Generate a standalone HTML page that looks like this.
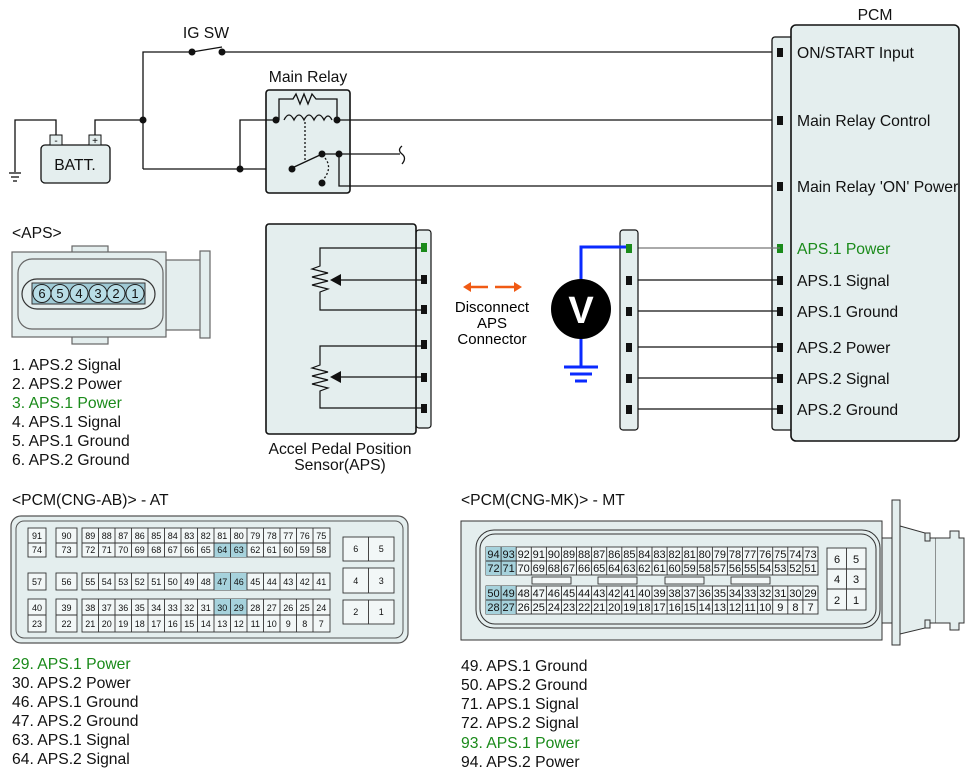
<!DOCTYPE html>
<html><head><meta charset="utf-8"><style>
html,body{margin:0;padding:0;background:#fff;}
svg{display:block;font-family:"Liberation Sans",Arial,sans-serif;}
.t{font-size:15.7px;fill:#111;}
.g{fill:#1a8a1a;}
.a{font-size:9px;text-anchor:middle;fill:#111;}
.m{font-size:11px;text-anchor:middle;fill:#111;}
</style></head><body>
<svg width="971" height="777" viewBox="0 0 971 777" xmlns="http://www.w3.org/2000/svg">
<g stroke="#111" stroke-width="1.3" fill="none">
<polyline points="143,169 143,52 192,52"/>
<line x1="192" y1="52" x2="222" y2="47"/>
<line x1="222" y1="52" x2="780" y2="52"/>
<polyline points="56,136 56,120 15,120 15,172"/>
<line x1="9" y1="173" x2="21" y2="173"/><line x1="11" y1="177" x2="19" y2="177"/><line x1="13" y1="181" x2="17" y2="181"/>
<polyline points="95,136 95,120 143,120"/>
<line x1="143" y1="169" x2="292" y2="169"/>
</g>
<rect x="41" y="145" width="69" height="38" rx="4" fill="#e4eeee" stroke="#111" stroke-width="1.3"/>
<rect x="50" y="135" width="12" height="10" fill="#e4eeee" stroke="#111"/>
<rect x="89" y="135" width="12" height="10" fill="#e4eeee" stroke="#111"/>
<text x="56" y="144" font-size="10" text-anchor="middle">-</text>
<text x="95" y="144" font-size="10" text-anchor="middle">+</text>
<text x="75" y="170" class="t" text-anchor="middle">BATT.</text>
<text x="206" y="38" class="t" text-anchor="middle">IG SW</text>
<text x="308" y="82" class="t" text-anchor="middle">Main Relay</text>
<rect x="266" y="90" width="84" height="103" rx="3" fill="#e4eeee" stroke="#111" stroke-width="1.6"/>
<g stroke="#111" stroke-width="1.3" fill="none">
<polyline points="240,169 240,120 276,120"/>
<polyline points="279,120 279,99 293,99 296,94 300,104 304,94 308,104 312,94 316,99 337,99 337,120"/>
<path d="M284,120 q5,-10 10,0 q5,-10 10,0 q5,-10 10,0 q5,-10 10,0 q4,-8 8,0"/>
<line x1="337" y1="120" x2="780" y2="120"/>
<line x1="305" y1="122" x2="305" y2="160" stroke-dasharray="2,2"/>
<line x1="292" y1="168" x2="320" y2="155"/>
<path d="M325,158 q8,10 -2,22" stroke-dasharray="2,2"/>
<polyline points="322,154 400,154"/>
<path d="M402,146 q-5,4 0,8 q5,4 0,10"/>
<polyline points="339,154 339,186 780,186"/>
</g>
<g fill="#111">
<circle cx="192" cy="52" r="3.5"/><circle cx="222" cy="52" r="3.5"/>
<circle cx="143" cy="120" r="3.5"/><circle cx="240" cy="169" r="3.5"/>
<circle cx="276" cy="120" r="3.5"/><circle cx="337" cy="120" r="3.5"/>
<circle cx="292" cy="169" r="3.5"/><circle cx="322" cy="154" r="3.5"/>
<circle cx="339" cy="154" r="3.5"/><circle cx="322" cy="183" r="3.5"/>
</g>
<text x="875" y="20" class="t" text-anchor="middle">PCM</text>
<rect x="772" y="37" width="22" height="393" rx="3" fill="#e4eeee" stroke="#111" stroke-width="1.3"/>
<rect x="791" y="25" width="168" height="416" rx="5" fill="#e4eeee" stroke="#111" stroke-width="1.6"/>
<g fill="#111">
<rect x="777" y="48" width="6" height="9"/><rect x="777" y="116" width="6" height="9"/><rect x="777" y="182" width="6" height="9"/>
<rect x="777" y="244" width="6" height="9" fill="#1a8a1a"/><rect x="777" y="276" width="6" height="9"/><rect x="777" y="307" width="6" height="9"/>
<rect x="777" y="343" width="6" height="9"/><rect x="777" y="374" width="6" height="9"/><rect x="777" y="405" width="6" height="9"/>
</g>
<text x="797" y="58" class="t">ON/START Input</text>
<text x="797" y="126" class="t">Main Relay Control</text>
<text x="797" y="192" class="t">Main Relay 'ON' Power</text>
<text x="797" y="254" class="t g">APS.1 Power</text>
<text x="797" y="286" class="t">APS.1 Signal</text>
<text x="797" y="317" class="t">APS.1 Ground</text>
<text x="797" y="353" class="t">APS.2 Power</text>
<text x="797" y="384" class="t">APS.2 Signal</text>
<text x="797" y="415" class="t">APS.2 Ground</text>
<g stroke="#111" stroke-width="1.2">
<line x1="630" y1="248" x2="780" y2="248" stroke="#777"/><line x1="630" y1="280" x2="780" y2="280"/><line x1="630" y1="311" x2="780" y2="311"/>
<line x1="630" y1="347" x2="780" y2="347"/><line x1="630" y1="378" x2="780" y2="378"/><line x1="630" y1="409" x2="780" y2="409"/>
</g>
<rect x="620" y="230" width="18" height="200" rx="3" fill="#e4eeee" stroke="#111" stroke-width="1.2"/>
<g fill="#111">
<rect x="626" y="244" width="6" height="9" fill="#1a8a1a"/><rect x="626" y="276" width="6" height="9"/><rect x="626" y="307" width="6" height="9"/>
<rect x="626" y="343" width="6" height="9"/><rect x="626" y="374" width="6" height="9"/><rect x="626" y="405" width="6" height="9"/>
</g>
<g stroke="#0a2aff" stroke-width="3" fill="none">
<polyline points="581,280 581,247 626,247"/>
<line x1="581" y1="338" x2="581" y2="366"/>
<line x1="564" y1="367" x2="598" y2="367"/><line x1="570" y1="374" x2="592" y2="374"/><line x1="575" y1="381" x2="587" y2="381"/>
</g>
<circle cx="581" cy="309" r="30" fill="#000"/>
<text x="581" y="323" font-size="38" font-weight="bold" fill="#fff" text-anchor="middle">V</text>
<g stroke="#f05a14" stroke-width="2.5" fill="#f05a14">
<line x1="468" y1="287" x2="488" y2="287"/><polygon points="463,287 471,282 471,292" stroke="none"/>
<line x1="495" y1="287" x2="516" y2="287"/><polygon points="522,287 514,282 514,292" stroke="none"/>
</g>
<text x="492" y="312" font-size="15" text-anchor="middle">Disconnect</text>
<text x="492" y="328" font-size="15" text-anchor="middle">APS</text>
<text x="492" y="344" font-size="15" text-anchor="middle">Connector</text>
<rect x="416" y="230" width="15" height="198" rx="3" fill="#e4eeee" stroke="#111" stroke-width="1.2"/>
<rect x="266" y="224" width="150" height="210" rx="3" fill="#e4eeee" stroke="#111" stroke-width="1.6"/>
<g stroke="#111" stroke-width="1.2" fill="none">
<polyline points="421,248 320,248 320,266 312,269 328,273 312,277 328,281 312,285 328,289 320,292 320,310 421,310"/>
<line x1="340" y1="280" x2="421" y2="280"/>
<polyline points="421,346 320,346 320,365 312,368 328,372 312,376 328,380 312,384 328,388 320,391 320,408 421,408"/>
<line x1="340" y1="377" x2="421" y2="377"/>
</g>
<polygon points="330,280 341,274 341,286" fill="#111"/>
<polygon points="330,377 341,371 341,383" fill="#111"/>
<g fill="#111">
<rect x="421" y="243" width="6" height="9" fill="#1a8a1a"/><rect x="421" y="275" width="6" height="9"/><rect x="421" y="305" width="6" height="9"/>
<rect x="421" y="340" width="6" height="9"/><rect x="421" y="373" width="6" height="9"/><rect x="421" y="404" width="6" height="9"/>
</g>
<text x="340" y="454" class="t" text-anchor="middle">Accel Pedal Position</text>
<text x="340" y="470" class="t" text-anchor="middle">Sensor(APS)</text>
<text x="12" y="238" class="t">&lt;APS&gt;</text>
<g stroke="#666" stroke-width="1.2" fill="#e4eeee">
<rect x="72" y="246" width="36" height="8"/><rect x="72" y="335" width="36" height="9"/>
<rect x="166" y="260" width="35" height="70"/><rect x="200" y="251" width="10" height="87"/>
<rect x="12" y="252" width="154" height="85"/>
<rect x="18" y="259" width="145" height="70" rx="14"/>
<rect x="22" y="279" width="133" height="30" rx="15" stroke="#333"/>
</g>
<rect x="32" y="283" width="113" height="21" fill="#9fc9d4" stroke="#333"/>
<g fill="#b8dde6" stroke="#222" stroke-width="1">
<circle cx="42" cy="293.5" r="9"/><circle cx="60" cy="293.5" r="9"/><circle cx="79" cy="293.5" r="9"/><circle cx="98" cy="293.5" r="9"/><circle cx="116" cy="293.5" r="9"/><circle cx="135" cy="293.5" r="9"/>
</g>
<g font-size="13" text-anchor="middle" fill="#111">
<text x="42" y="298">6</text><text x="60" y="298">5</text><text x="79" y="298">4</text><text x="98" y="298">3</text><text x="116" y="298">2</text><text x="135" y="298">1</text>
</g>
<text x="12" y="370" class="t">1. APS.2 Signal</text>
<text x="12" y="389" class="t">2. APS.2 Power</text>
<text x="12" y="408" class="t g">3. APS.1 Power</text>
<text x="12" y="427" class="t">4. APS.1 Signal</text>
<text x="12" y="446" class="t">5. APS.1 Ground</text>
<text x="12" y="465" class="t">6. APS.2 Ground</text>
<text x="12" y="505" class="t">&lt;PCM(CNG-AB)&gt; - AT</text>
<rect x="11" y="516" width="397" height="127" rx="10" fill="#e4eeee" stroke="#555" stroke-width="1.2"/>
<rect x="16" y="521" width="387" height="117" rx="8" fill="none" stroke="#555"/>
<g fill="#f2f7f7" stroke="#333" stroke-width="0.9">
<rect x="28" y="528" width="18" height="29"/><rect x="56" y="528" width="21" height="29"/><rect x="82" y="528" width="248" height="29"/>
<rect x="28" y="573" width="18" height="17"/><rect x="56" y="573" width="21" height="17"/><rect x="82" y="573" width="248" height="17"/>
<rect x="28" y="599" width="18" height="33"/><rect x="56" y="599" width="21" height="33"/><rect x="82" y="599" width="248" height="33"/>
<rect x="343" y="537" width="51" height="24"/><rect x="343" y="568" width="51" height="25"/><rect x="343" y="600" width="51" height="24"/>
</g>
<g fill="#a6d2dc">
<rect x="214" y="543" width="33" height="14"/><rect x="214" y="573" width="33" height="17"/><rect x="214" y="599" width="33" height="16"/>
</g>
<g stroke="#333" stroke-width="0.9">
<path d="M28,543H46M56,543H77M82,543H330M28,615H46M56,615H77M82,615H330M368.5,537V561M368.5,568V593M368.5,600V624"/>
<path d="M98.5,528V557M115,528V557M131.5,528V557M148,528V557M164.5,528V557M181,528V557M197.5,528V557M214,528V557M230.5,528V557M247,528V557M263.5,528V557M280,528V557M296.5,528V557M313,528V557"/>
<path d="M98.5,573V590M115,573V590M131.5,573V590M148,573V590M164.5,573V590M181,573V590M197.5,573V590M214,573V590M230.5,573V590M247,573V590M263.5,573V590M280,573V590M296.5,573V590M313,573V590"/>
<path d="M98.5,599V632M115,599V632M131.5,599V632M148,599V632M164.5,599V632M181,599V632M197.5,599V632M214,599V632M230.5,599V632M247,599V632M263.5,599V632M280,599V632M296.5,599V632M313,599V632"/>
</g>
<g class="a">
<text x="37" y="539">91</text><text x="66.5" y="539">90</text><text x="37" y="553">74</text><text x="66.5" y="553">73</text>
<text x="37" y="585">57</text><text x="66.5" y="585">56</text>
<text x="37" y="611">40</text><text x="66.5" y="611">39</text><text x="37" y="627">23</text><text x="66.5" y="627">22</text>
<text x="90.3" y="539">89</text><text x="106.8" y="539">88</text><text x="123.3" y="539">87</text><text x="139.8" y="539">86</text><text x="156.3" y="539">85</text><text x="172.8" y="539">84</text><text x="189.3" y="539">83</text><text x="205.8" y="539">82</text><text x="222.3" y="539">81</text><text x="238.8" y="539">80</text><text x="255.3" y="539">79</text><text x="271.8" y="539">78</text><text x="288.3" y="539">77</text><text x="304.8" y="539">76</text><text x="321.3" y="539">75</text>
<text x="90.3" y="553">72</text><text x="106.8" y="553">71</text><text x="123.3" y="553">70</text><text x="139.8" y="553">69</text><text x="156.3" y="553">68</text><text x="172.8" y="553">67</text><text x="189.3" y="553">66</text><text x="205.8" y="553">65</text><text x="222.3" y="553">64</text><text x="238.8" y="553">63</text><text x="255.3" y="553">62</text><text x="271.8" y="553">61</text><text x="288.3" y="553">60</text><text x="304.8" y="553">59</text><text x="321.3" y="553">58</text>
<text x="90.3" y="585">55</text><text x="106.8" y="585">54</text><text x="123.3" y="585">53</text><text x="139.8" y="585">52</text><text x="156.3" y="585">51</text><text x="172.8" y="585">50</text><text x="189.3" y="585">49</text><text x="205.8" y="585">48</text><text x="222.3" y="585">47</text><text x="238.8" y="585">46</text><text x="255.3" y="585">45</text><text x="271.8" y="585">44</text><text x="288.3" y="585">43</text><text x="304.8" y="585">42</text><text x="321.3" y="585">41</text>
<text x="90.3" y="611">38</text><text x="106.8" y="611">37</text><text x="123.3" y="611">36</text><text x="139.8" y="611">35</text><text x="156.3" y="611">34</text><text x="172.8" y="611">33</text><text x="189.3" y="611">32</text><text x="205.8" y="611">31</text><text x="222.3" y="611">30</text><text x="238.8" y="611">29</text><text x="255.3" y="611">28</text><text x="271.8" y="611">27</text><text x="288.3" y="611">26</text><text x="304.8" y="611">25</text><text x="321.3" y="611">24</text>
<text x="90.3" y="627">21</text><text x="106.8" y="627">20</text><text x="123.3" y="627">19</text><text x="139.8" y="627">18</text><text x="156.3" y="627">17</text><text x="172.8" y="627">16</text><text x="189.3" y="627">15</text><text x="205.8" y="627">14</text><text x="222.3" y="627">13</text><text x="238.8" y="627">12</text><text x="255.3" y="627">11</text><text x="271.8" y="627">10</text><text x="288.3" y="627">9</text><text x="304.8" y="627">8</text><text x="321.3" y="627">7</text>
<text x="355.7" y="552">6</text><text x="381.2" y="552">5</text><text x="355.7" y="584">4</text><text x="381.2" y="584">3</text><text x="355.7" y="615">2</text><text x="381.2" y="615">1</text>
</g>
<text x="12" y="669" class="t g">29. APS.1 Power</text>
<text x="12" y="688" class="t">30. APS.2 Power</text>
<text x="12" y="707" class="t">46. APS.1 Ground</text>
<text x="12" y="726" class="t">47. APS.2 Ground</text>
<text x="12" y="745" class="t">63. APS.1 Signal</text>
<text x="12" y="764" class="t">64. APS.2 Signal</text>
<text x="461" y="505" class="t">&lt;PCM(CNG-MK)&gt; - MT</text>
<g fill="#e4eeee" stroke="#333" stroke-width="1">
<polygon points="900,526 925,533 925,538 936,538 936,623 925,623 925,628 900,634"/>
<rect x="925" y="533" width="5" height="8"/><rect x="925" y="620" width="5" height="8"/>
<polyline points="936,538 950,538 950,531 959,531 959,538 964,538 964,623 959,623 959,630 950,630 950,623 936,623" fill="#e4eeee"/>
<rect x="461" y="521" width="421" height="119"/>
<rect x="882" y="538" width="10" height="85"/>
<rect x="892" y="500" width="8" height="145"/>
</g>
<rect x="476" y="530" width="404" height="98" rx="18" fill="none" stroke="#333"/>
<rect x="480" y="534" width="396" height="90" rx="15" fill="none" stroke="#333"/>
<g fill="#f2f7f7" stroke="#333" stroke-width="0.9">
<rect x="486" y="547" width="332" height="28"/><rect x="486" y="586" width="332" height="28"/>
<rect x="532" y="577" width="39" height="7"/><rect x="598" y="577" width="39" height="7"/><rect x="665" y="577" width="39" height="7"/><rect x="731" y="577" width="39" height="7"/>
<rect x="827" y="548" width="39" height="62"/>
</g>
<g fill="#a6d2dc"><rect x="486" y="547" width="30" height="28"/><rect x="486" y="586" width="30" height="28"/></g>
<g stroke="#333" stroke-width="0.9" fill="none">
<path d="M486,561H818M486,600H818M827,569H866M827,589H866M846.5,548V610"/>
<path d="M501.1,547V575M516.2,547V575M531.3,547V575M546.4,547V575M561.5,547V575M576.5,547V575M591.6,547V575M606.7,547V575M621.8,547V575M636.9,547V575M652,547V575M667.1,547V575M682.2,547V575M697.3,547V575M712.4,547V575M727.4,547V575M742.5,547V575M757.6,547V575M772.7,547V575M787.8,547V575M802.9,547V575"/>
<path d="M501.1,586V614M516.2,586V614M531.3,586V614M546.4,586V614M561.5,586V614M576.5,586V614M591.6,586V614M606.7,586V614M621.8,586V614M636.9,586V614M652,586V614M667.1,586V614M682.2,586V614M697.3,586V614M712.4,586V614M727.4,586V614M742.5,586V614M757.6,586V614M772.7,586V614M787.8,586V614M802.9,586V614"/>
</g>
<g class="m">
<text x="493.5" y="558">94</text><text x="508.6" y="558">93</text><text x="523.7" y="558">92</text><text x="538.8" y="558">91</text><text x="553.9" y="558">90</text><text x="569" y="558">89</text><text x="584.1" y="558">88</text><text x="599.2" y="558">87</text><text x="614.3" y="558">86</text><text x="629.4" y="558">85</text><text x="644.4" y="558">84</text><text x="659.5" y="558">83</text><text x="674.6" y="558">82</text><text x="689.7" y="558">81</text><text x="704.8" y="558">80</text><text x="719.9" y="558">79</text><text x="735" y="558">78</text><text x="750.1" y="558">77</text><text x="765.2" y="558">76</text><text x="780.3" y="558">75</text><text x="795.4" y="558">74</text><text x="810.5" y="558">73</text>
<text x="493.5" y="572">72</text><text x="508.6" y="572">71</text><text x="523.7" y="572">70</text><text x="538.8" y="572">69</text><text x="553.9" y="572">68</text><text x="569" y="572">67</text><text x="584.1" y="572">66</text><text x="599.2" y="572">65</text><text x="614.3" y="572">64</text><text x="629.4" y="572">63</text><text x="644.4" y="572">62</text><text x="659.5" y="572">61</text><text x="674.6" y="572">60</text><text x="689.7" y="572">59</text><text x="704.8" y="572">58</text><text x="719.9" y="572">57</text><text x="735" y="572">56</text><text x="750.1" y="572">55</text><text x="765.2" y="572">54</text><text x="780.3" y="572">53</text><text x="795.4" y="572">52</text><text x="810.5" y="572">51</text>
<text x="493.5" y="597">50</text><text x="508.6" y="597">49</text><text x="523.7" y="597">48</text><text x="538.8" y="597">47</text><text x="553.9" y="597">46</text><text x="569" y="597">45</text><text x="584.1" y="597">44</text><text x="599.2" y="597">43</text><text x="614.3" y="597">42</text><text x="629.4" y="597">41</text><text x="644.4" y="597">40</text><text x="659.5" y="597">39</text><text x="674.6" y="597">38</text><text x="689.7" y="597">37</text><text x="704.8" y="597">36</text><text x="719.9" y="597">35</text><text x="735" y="597">34</text><text x="750.1" y="597">33</text><text x="765.2" y="597">32</text><text x="780.3" y="597">31</text><text x="795.4" y="597">30</text><text x="810.5" y="597">29</text>
<text x="493.5" y="611">28</text><text x="508.6" y="611">27</text><text x="523.7" y="611">26</text><text x="538.8" y="611">25</text><text x="553.9" y="611">24</text><text x="569" y="611">23</text><text x="584.1" y="611">22</text><text x="599.2" y="611">21</text><text x="614.3" y="611">20</text><text x="629.4" y="611">19</text><text x="644.4" y="611">18</text><text x="659.5" y="611">17</text><text x="674.6" y="611">16</text><text x="689.7" y="611">15</text><text x="704.8" y="611">14</text><text x="719.9" y="611">13</text><text x="735" y="611">12</text><text x="750.1" y="611">11</text><text x="765.2" y="611">10</text><text x="780.3" y="611">9</text><text x="795.4" y="611">8</text><text x="810.5" y="611">7</text>
<text x="837" y="563">6</text><text x="856" y="563">5</text><text x="837" y="583">4</text><text x="856" y="583">3</text><text x="837" y="604">2</text><text x="856" y="604">1</text>
</g>
<text x="461" y="671" class="t">49. APS.1 Ground</text>
<text x="461" y="690" class="t">50. APS.2 Ground</text>
<text x="461" y="709" class="t">71. APS.1 Signal</text>
<text x="461" y="728" class="t">72. APS.2 Signal</text>
<text x="461" y="748" class="t g">93. APS.1 Power</text>
<text x="461" y="767" class="t">94. APS.2 Power</text>
</svg>
</body></html>
